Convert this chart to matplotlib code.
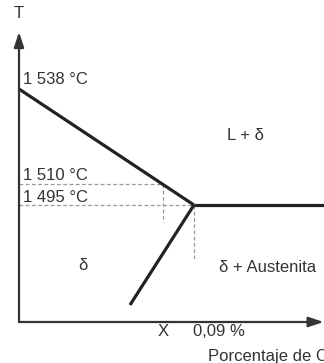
import matplotlib
matplotlib.use("Agg")
import matplotlib.pyplot as plt

plt.rcParams['font.family'] = ['Liberation Sans', 'DejaVu Sans']

# Schematic Fe-C corner (peritectic region); x = % C, y = schematic temperature height
liquidus_c = [0.0, 0.09]
liquidus_h = [233, 117]
peritectic_c = [0.09, 0.16]
peritectic_h = [117, 117]
solidus_c = [0.09, 0.0571]
solidus_h = [117, 17]

# Reference temperatures and where they sit on the schematic
temp_labels = ["1 538 °C", "1 510 °C", "1 495 °C"]
temp_levels = [233, 138, 117]
x_mark_c = 0.074          # composition X at 1 510 °C
peritectic_label = "0,09 %"

fig = plt.figure(figsize=(3.24, 3.63), dpi=100)
ax = fig.add_axes([0, 0, 1, 1])
ax.set_xlim(-19 / 1944, 305 / 1944)
ax.set_ylim(-41, 322)
ax.axis('off')

axis_col = '#333333'
# axes with arrows
ax.annotate('', xy=(0, 290), xytext=(0, 0),
            arrowprops=dict(arrowstyle='-|>,head_length=0.9,head_width=0.3',
                            lw=1.6, color=axis_col, shrinkA=0, shrinkB=0))
ax.annotate('', xy=(0.1567, 0), xytext=(0, 0),
            arrowprops=dict(arrowstyle='-|>,head_length=0.9,head_width=0.3',
                            lw=1.6, color=axis_col, shrinkA=0, shrinkB=0))

# guide lines
dash = dict(color='#999999', lw=0.9, ls=(0, (3, 2)))
ax.plot([0, x_mark_c], [temp_levels[1]] * 2, **dash)
ax.plot([x_mark_c, x_mark_c], [temp_levels[1], 100], **dash)
ax.plot([0, liquidus_c[1]], [temp_levels[2]] * 2, **dash)
ax.plot([liquidus_c[1]] * 2, [temp_levels[2], 62], **dash)

# phase boundaries
line = dict(color='#222222', lw=2.3, solid_capstyle='butt')
ax.plot(liquidus_c, liquidus_h, **line)
ax.plot(peritectic_c, peritectic_h, **line)
ax.plot(solidus_c, solidus_h, **line)

txt = dict(fontsize=12, color='#333333')
ax.text(0.00005, 308, "T", ha='center', va='center', **txt)
ax.text(0.0023, 242, temp_labels[0], ha='left', va='center', **txt)
ax.text(0.0023, 147, temp_labels[1], ha='left', va='center', **txt)
ax.text(0.0023, 124, temp_labels[2], ha='left', va='center', **txt)
ax.text(0.1165, 186, "L + δ", ha='center', va='center', **txt)
ax.text(0.0329, 57, "δ", ha='center', va='center', **txt)
ax.text(0.1031, 55, "δ + Austenita", ha='left', va='center', **txt)
ax.text(x_mark_c, -10, "X", ha='center', va='center', **txt)
ax.text(0.0895, -10, peritectic_label, ha='left', va='center', **txt)
ax.text(0.0972, -35, "Porcentaje de C", ha='left', va='center', **txt)

fig.savefig("out.png", dpi=100)
